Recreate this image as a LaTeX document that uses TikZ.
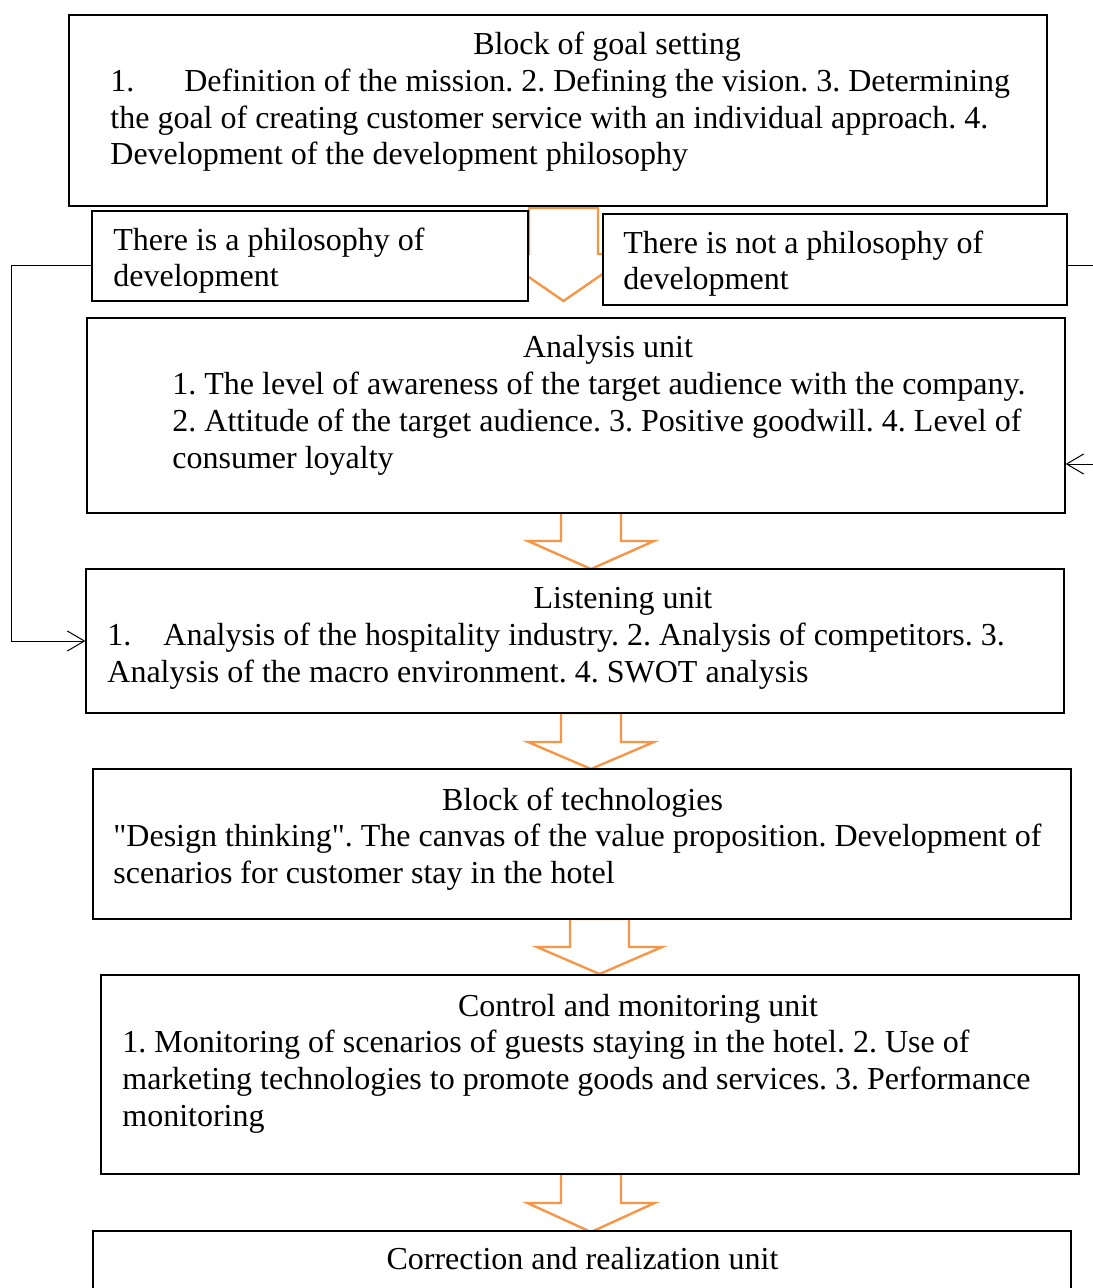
\documentclass[tikz,border=0pt]{standalone}
\usepackage{fontspec}
\setmainfont{Liberation Serif}
\usetikzlibrary{arrows.meta,fit,calc}
\definecolor{C1}{HTML}{F79646}
\frenchspacing

\tikzset{
    box/.style = {draw, line width=0.65pt, fill=white, inner sep=0pt},
    ttl/.style = {inner sep=0pt, anchor=base},
    txt/.style = {inner sep=0pt, anchor=base west, align=left},
    link/.style = {line width=0.5pt, -{Straight Barb[length=8.5pt,width=10pt]}},
    blockarrow/.style = {draw=C1, line width=1.2pt, line join=miter},
}

\begin{document}
\begin{tikzpicture}[x=0.5pt, y=-0.5pt]
    \fontsize{16}{18.4}\selectfont
    \useasboundingbox (0,0) rectangle (1092,1288);
        % orange block arrows, drawn first so the boxes hide their ends
        \foreach \cx/\ya/\yb/\yc/\sw/\hw in {563.5/208/254/301/34.5/68, 591/512/541/569/30/63, 591/713/742/769/30/63, 599.5/919/947/974/29.5/62.5, 591/1174/1203/1232/30/63.5}
            \draw [blockarrow] (\cx-\sw,\ya) -- (\cx-\sw,\yb) -- (\cx-\hw,\yb) -- (\cx,\yc) -- (\cx+\hw,\yb) -- (\cx+\sw,\yb) -- (\cx+\sw,\ya) -- cycle;
        % boxes
        \node [box, fit={(69,15) (1047,206)}] (goal) {};
        \node [box, fit={(92,211) (528,301)}] (phil) {};
        \node [box, fit={(603,214) (1067,305)}] (nophil) {};
        \node [box, fit={(87,318) (1065,513)}] (analysis) {};
        \node [box, fit={(86,569) (1064,713)}] (listen) {};
        \node [box, fit={(93,769) (1071,919)}] (techno) {};
        \node [box, fit={(101,975) (1079,1174)}] (control) {};
        \node [box, fit={(93,1231) (1071,1310)}] (correct) {};
        % texts (base = last line)
        \node [ttl] (goaltitle) at (607,55) {Block of goal setting};
        \node [txt] (goaltext) at (110,165) {1.\hspace{25pt}Definition of the mission. 2. Defining the vision. 3. Determining\\the goal of creating customer service with an individual approach. 4.\\Development of the development philosophy};
        \node [txt] (philtext) at (113,287) {There is a philosophy of\\development};
        \node [txt] (nophiltext) at (623,290) {There is not a philosophy of\\development};
        \node [ttl] (analysistitle) at (608,358) {Analysis unit};
        \node [txt] (analysistext) at (172,468) {1. The level of awareness of the target audience with the company.\\2. Attitude of the target audience. 3. Positive goodwill. 4. Level of\\consumer loyalty};
        \node [ttl] (listentitle) at (623,608) {Listening unit};
        \node [txt] (listentext) at (107,682) {1.\hspace{16pt}Analysis of the hospitality industry. 2. Analysis of competitors. 3.\\Analysis of the macro environment. 4. SWOT analysis};
        \node [ttl] (technotitle) at (582.5,810) {Block of technologies};
        \node [txt] (technotext) at (113,883) {\textquotedbl Design thinking\textquotedbl. The canvas of the value proposition. Development of\\scenarios for customer stay in the hotel};
        \node [ttl] (controltitle) at (638,1016) {Control and monitoring unit};
        \node [txt] (controltext) at (122,1126) {1. Monitoring of scenarios of guests staying in the hotel. 2. Use of\\marketing technologies to promote goods and services. 3. Performance\\monitoring};
        \node [ttl] (correcttitle) at (582.5,1269) {Correction and realization unit};
        % side connectors
        \draw [link] ($(phil.west)+(0,10)$) -- ++(-80,0) |- (listen.west);
        \draw [link] ($(nophil.east)+(0,6.5)$) -- ++(40,0) |- ($(analysis.east)+(0,48.5)$);
    \end{tikzpicture}
\end{document}
